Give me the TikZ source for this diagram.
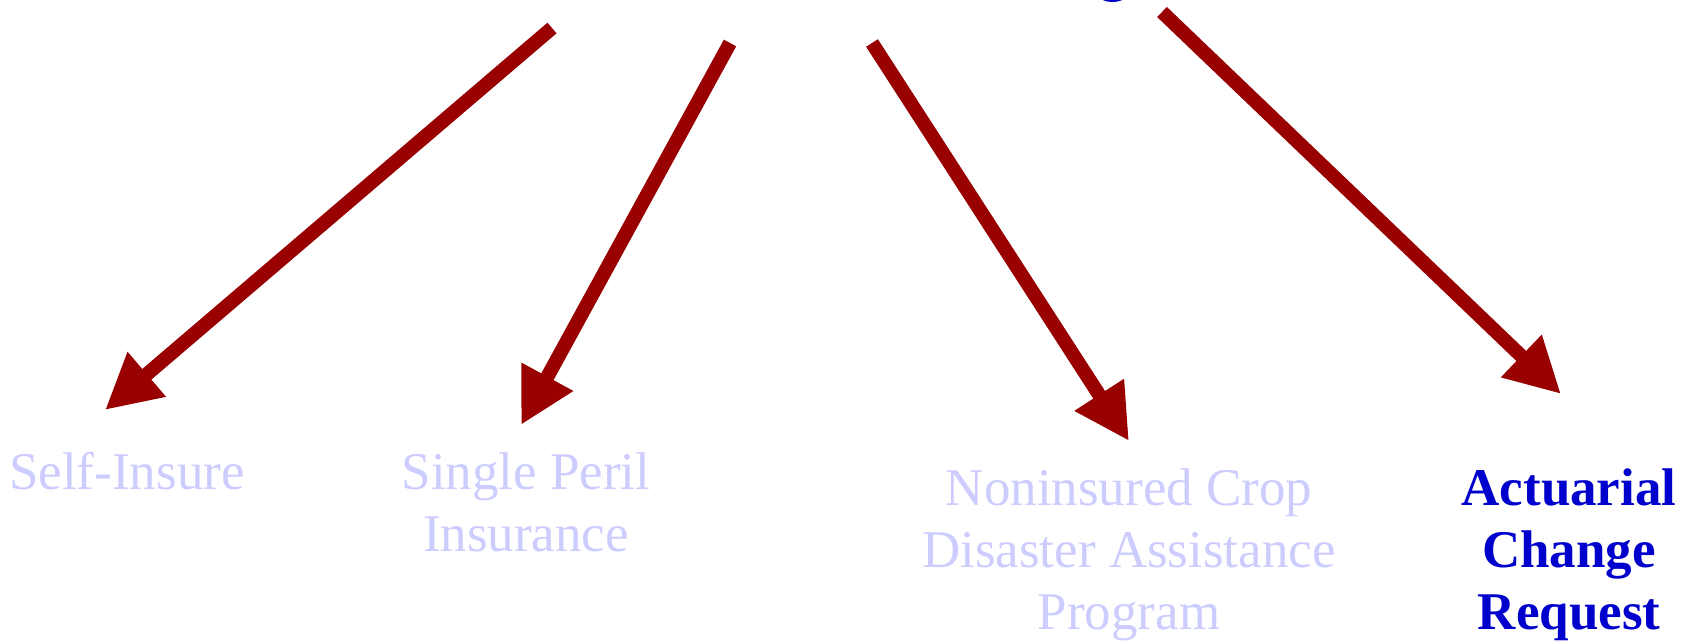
\documentclass[tikz,border=0pt]{standalone}
\usepackage{fontspec}
\setmainfont{Liberation Serif}
\usetikzlibrary{arrows.meta}
\definecolor{arrowred}{RGB}{153,0,0}
\definecolor{paleblue}{RGB}{204,204,255}
\definecolor{deepblue}{RGB}{0,0,204}
\tikzset{
  bigarrow/.style={draw=arrowred, line width=14pt,
    -{Triangle[length=55pt,width=55pt,fill=arrowred]}},
  paletext/.style={text=paleblue, font=\fontsize{53}{62}\selectfont,
    align=center, inner sep=0pt, anchor=base},
  boldtext/.style={text=deepblue, font=\fontsize{53}{62}\selectfont\bfseries,
    align=center, inner sep=0pt, anchor=base}
}
\begin{document}
\begin{tikzpicture}[x=1pt,y=-1pt]
\useasboundingbox (0,0) rectangle (1692,641);
% fragment of cut-off title
\begin{scope}
\clip (0,0) rectangle (1692,641);
\fill[deepblue] (1112.5,-4) ellipse [x radius=13, y radius=6];
\end{scope}
% arrow start and end points
\coordinate (s1) at (552,28);
\coordinate (s2) at (730,43);
\coordinate (s3) at (872,43);
\coordinate (s4) at (1162,12);
\coordinate (t1) at (105,410);
\coordinate (t2) at (521,425);
\coordinate (t3) at (1129,441);
\coordinate (t4) at (1561,394);
\draw[bigarrow] (s1) -- (t1);
\draw[bigarrow] (s2) -- (t2);
\draw[bigarrow] (s3) -- (t3);
\draw[bigarrow] (s4) -- (t4);
% labels (anchor = baseline of last line)
\node[paletext] (self) at (127,489) {Self-Insure};
\node[paletext] (single) at (526,551) {Single Peril\\Insurance};
\node[paletext] (nap) at (1129,629) {Noninsured Crop\\Disaster Assistance\\Program};
\node[boldtext] (acr) at (1569,629) {Actuarial\\Change\\Request};
\end{tikzpicture}
\end{document}
